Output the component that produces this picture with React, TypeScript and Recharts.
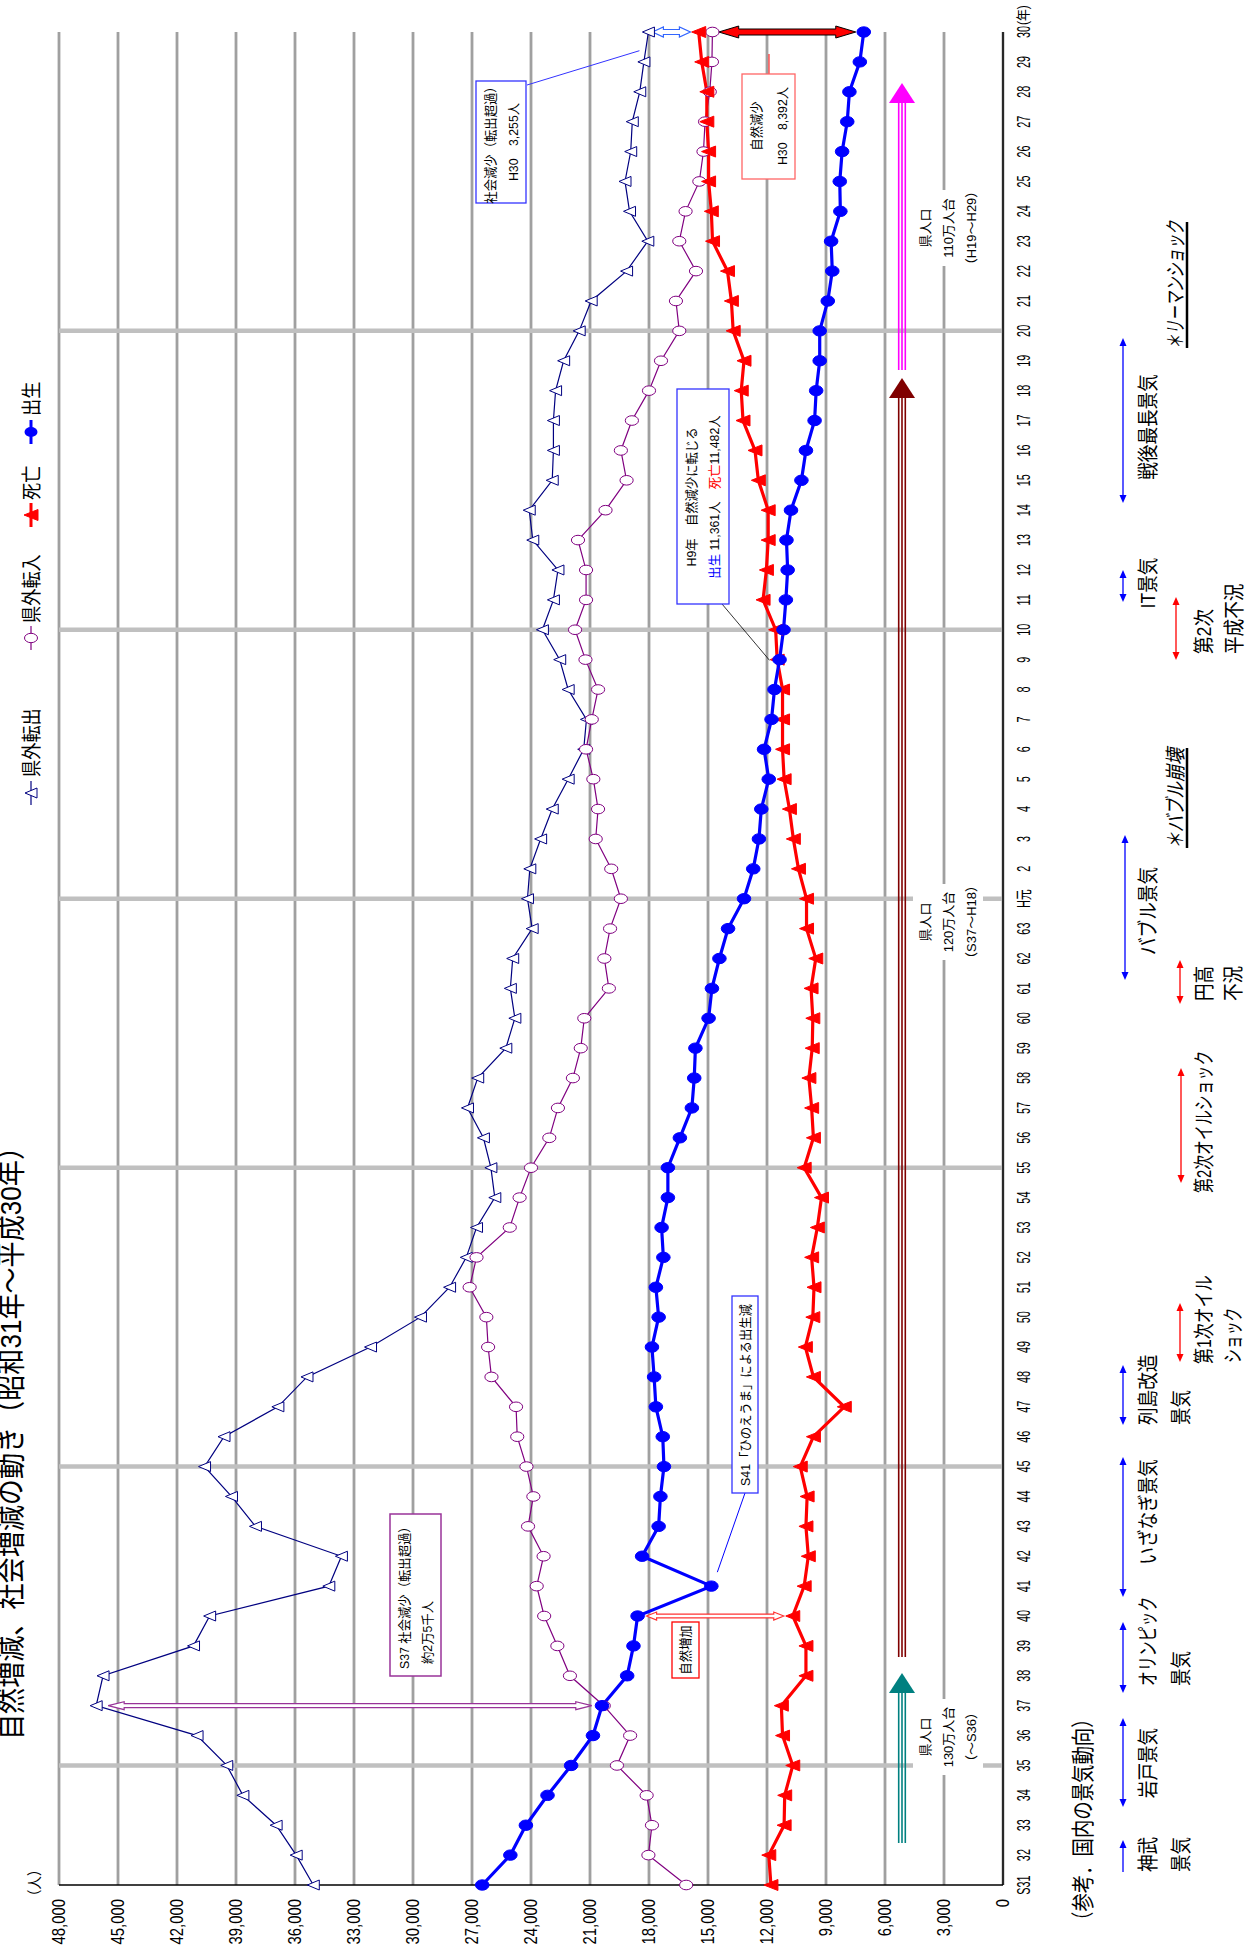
import React from "react";
import {
  ComposedChart,
  Line,
  XAxis,
  YAxis,
  CartesianGrid,
  ReferenceLine,
} from "recharts";

// chart is laid out landscape, then turned -90deg to match the portrait page
const W = 1955;
const H = 1247;
const MARGIN = { top: 59, right: 32, bottom: 214, left: 10 };
const Y_AXIS_W = 60;
const X_AXIS_H = 30;
const PLOT_L = MARGIN.left + Y_AXIS_W;
const PLOT_R = W - MARGIN.right;
const PLOT_T = MARGIN.top;
const PLOT_B = H - MARGIN.bottom - X_AXIS_H;
const Y_MAX = 48000;

const FONT = "'Liberation Sans', 'Noto Sans CJK JP', sans-serif";
const NAVY = "#000080";
const PURPLE = "#800080";
const RED = "#ff0000";
const BLUE = "#0000ff";

const years = [
  "S31", "32", "33", "34", "35", "36", "37", "38", "39", "40",
  "41", "42", "43", "44", "45", "46", "47", "48", "49", "50",
  "51", "52", "53", "54", "55", "56", "57", "58", "59", "60",
  "61", "62", "63", "H元", "2", "3", "4", "5", "6", "7",
  "8", "9", "10", "11", "12", "13", "14", "15", "16", "17",
  "18", "19", "20", "21", "22", "23", "24", "25", "26", "27",
  "28", "29", "30",
];

// 県外転出
const outMig = [
  35070, 35940, 36960, 38650, 39470, 40980, 46110, 45760, 41160, 40340,
  34280, 33640, 38010, 39230, 40600, 39610, 36870, 35390, 32160, 29620,
  28140, 27290, 26770, 25840, 26040, 26420, 27230, 26710, 25280, 24820,
  25050, 24930, 23940, 24180, 24060, 23510, 22920, 22110, 21320, 21180,
  22110, 22540, 23420, 22860, 22630, 23910, 24090, 22920, 22860, 22860,
  22750, 22340, 21550, 20940, 19140, 18060, 18990, 19220, 18930, 18850,
  18470, 18260, 18030,
];

// 県外転入
const inMig = [
  16110, 18030, 17850, 18120, 19630, 18960, 20300, 22020, 22660, 23330,
  23710, 23360, 24150, 23880, 24230, 24700, 24760, 26010, 26180, 26270,
  27120, 26770, 25080, 24580, 24000, 23070, 22630, 21870, 21470, 21290,
  20040, 20270, 19980, 19430, 19920, 20710, 20590, 20830, 21200, 20910,
  20590, 21230, 21760, 21200, 21200, 21610, 20210, 19140, 19430, 18870,
  18000, 17390, 16460, 16630, 15610, 16460, 16140, 15440, 15230, 15150,
  14910, 14800, 14775,
];

// 死亡
const deaths = [
  11800, 11910, 11130, 11100, 10690, 11210, 11270, 10020, 10020, 10690,
  10110, 9900, 10020, 9960, 10310, 9640, 8070, 9640, 10050, 9670,
  9610, 9730, 9440, 9230, 10110, 9640, 9730, 9870, 9700, 9670,
  9760, 9520, 9990, 9990, 10400, 10660, 10860, 11130, 11210, 11210,
  11210, 11482, 11560, 12200, 12030, 11940, 11940, 12440, 12610, 13220,
  13310, 13170, 13720, 13810, 14010, 14770, 14830, 14970, 14970, 15060,
  15060, 15320, 15472,
];

// 出生
const births = [
  26480, 25050, 24260, 23160, 21960, 20850, 20390, 19110, 18790, 18580,
  14830, 18350, 17510, 17420, 17240, 17300, 17650, 17740, 17850, 17510,
  17650, 17270, 17360, 17040, 17040, 16430, 15820, 15700, 15640, 14970,
  14800, 14420, 13980, 13170, 12700, 12410, 12290, 11910, 12150, 11770,
  11620, 11361, 11160, 11040, 10950, 11010, 10780, 10250, 10020, 9580,
  9500, 9320, 9320, 8910, 8680, 8740, 8270, 8300, 8180, 7920,
  7810, 7280, 7080,
];

const yTicks = [0, 3000, 6000, 9000, 12000, 15000, 18000, 21000, 24000, 27000, 30000, 33000, 36000, 39000, 42000, 45000, 48000];
const gridYears = ["35", "45", "55", "H元", "10", "20"];

const rows = years.map((year, i) => ({
  year,
  out: outMig[i],
  inn: inMig[i],
  death: deaths[i],
  birth: births[i],
}));

// same mapping as the chart scales, only for annotation leaders
const band = (PLOT_R - PLOT_L) / years.length;
const xc = (i: number) => PLOT_L + (i + 0.5) * band;
const yv = (v: number) => PLOT_B - (v / Y_MAX) * (PLOT_B - PLOT_T);

function T({ x, y, size = 13, sx = 0.9, anchor = "start", fill = "#000", italic = false, children }: any) {
  return (
    <text
      transform={`translate(${x},${y}) scale(${sx},1)`}
      fontSize={size}
      textAnchor={anchor}
      fill={fill}
      fontFamily={FONT}
      fontStyle={italic ? "italic" : undefined}
    >
      {children}
    </text>
  );
}

function triPath(cx: number, cy: number, b: number, h: number) {
  return `M${cx},${cy - h / 2} L${cx + b / 2},${cy + h / 2} L${cx - b / 2},${cy + h / 2} Z`;
}

const triDot = (stroke: string, fill: string, b: number, h: number) => (p: any) => (
  <path key={`t${p.index}`} d={triPath(p.cx, p.cy, b, h)} fill={fill} stroke={stroke} strokeWidth={1} />
);

const ellDot = (stroke: string, fill: string, rx: number, ry: number) => (p: any) => (
  <ellipse key={`e${p.index}`} cx={p.cx} cy={p.cy} rx={rx} ry={ry} fill={fill} stroke={stroke} strokeWidth={1} />
);

// vertical double arrow for ReferenceLine segments
const vArrow = (o: any) => (p: any) => {
  const x = p.x1;
  const ya = Math.min(p.y1, p.y2) + o.padA;
  const yb = Math.max(p.y1, p.y2) - o.padB;
  const { s, h, L } = o;
  const pts = [
    [x, ya], [x + h, ya + L], [x + s, ya + L], [x + s, yb - L], [x + h, yb - L],
    [x, yb], [x - h, yb - L], [x - s, yb - L], [x - s, ya + L], [x - h, ya + L],
  ].map((q) => q.join(",")).join(" ");
  return <polygon points={pts} fill={o.fill} stroke={o.stroke} strokeWidth={o.sw} />;
};

function EcoArrow({ x1, x2, y, color, both = true }: any) {
  const L = 8;
  const hw = 3.5;
  return (
    <g>
      <line x1={both ? x1 + L - 1 : x1} x2={x2 - L + 1} y1={y} y2={y} stroke={color} strokeWidth={1.3} />
      <polygon points={`${x2},${y} ${x2 - L},${y - hw} ${x2 - L},${y + hw}`} fill={color} />
      {both && <polygon points={`${x1},${y} ${x1 + L},${y - hw} ${x1 + L},${y + hw}`} fill={color} />}
    </g>
  );
}

function PopArrow({ x1, x2, y, color }: any) {
  const L = 20;
  const hw = 13;
  return (
    <g>
      {[-3.3, 0, 3.3].map((d) => (
        <line key={d} x1={x1} x2={x2 - L + 2} y1={y + d} y2={y + d} stroke={color} strokeWidth={1.6} />
      ))}
      <polygon points={`${x2},${y} ${x2 - L},${y - hw} ${x2 - L},${y + hw}`} fill={color} />
    </g>
  );
}

function PopLabel({ x, lines }: any) {
  return (
    <g>
      <rect x={x - 38} y={913} width={76} height={70} fill="#fff" />
      <T x={x} y={930} anchor="middle" size={13} sx={1}>{lines[0]}</T>
      <T x={x} y={953} anchor="middle" size={13} sx={1}>{lines[1]}</T>
      <T x={x} y={976} anchor="middle" size={13} sx={1}>{lines[2]}</T>
    </g>
  );
}

const ES = 21; // business-cycle label size
const EX = 0.84;
const KX = 0.71; // katakana-heavy labels run narrower

function Overlay() {
  return (
    <svg width={W} height={H} style={{ position: "absolute", left: 0, top: 0, pointerEvents: "none" }}>
      {/* title, units */}
      <T x={215} y={21} size={30} sx={0.87}>自然増減、社会増減の動き（昭和31年～平成30年）</T>
      <T x={52} y={40} size={15} sx={0.9}>（人）</T>
      <T x={1930} y={1028} size={14} sx={0.85}>(年)</T>

      {/* legend */}
      <line x1={1150} x2={1174} y1={31} y2={31} stroke={NAVY} strokeWidth={1.2} />
      <path d={triPath(1162, 31, 10, 12)} fill="#fff" stroke={NAVY} />
      <T x={1178} y={39} size={20} sx={0.86}>県外転出</T>
      <line x1={1305} x2={1329} y1={31} y2={31} stroke={PURPLE} strokeWidth={1.2} />
      <ellipse cx={1317} cy={31} rx={4.7} ry={6.5} fill="#fff" stroke={PURPLE} />
      <T x={1332} y={39} size={20} sx={0.86}>県外転入</T>
      <line x1={1428} x2={1452} y1={31} y2={31} stroke={RED} strokeWidth={3} />
      <path d={triPath(1440, 31, 11, 14)} fill={RED} stroke={RED} />
      <T x={1455} y={39} size={20} sx={0.86}>死亡</T>
      <line x1={1511} x2={1535} y1={31} y2={31} stroke={BLUE} strokeWidth={3} />
      <ellipse cx={1523} cy={31} rx={5} ry={6.5} fill={BLUE} />
      <T x={1539} y={39} size={20} sx={0.86}>出生</T>

      {/* S37 note */}
      <rect x={279} y={390} width={162} height={51} fill="#fff" stroke="#993399" strokeWidth={1.5} />
      <T x={286} y={409} size={13} sx={0.95}>S37 社会減少（転出超過）</T>
      <T x={291} y={432} size={13} sx={0.95}>約2万5千人</T>

      {/* natural increase */}
      <rect x={277} y={672} width={56} height={27} fill="#fff" stroke={RED} strokeWidth={1.3} />
      <T x={305} y={690} size={13} sx={0.95} anchor="middle">自然増加</T>

      {/* S41 hinoeuma */}
      <line x1={462} y1={745} x2={xc(10) + 4} y2={yv(births[10]) + 6} stroke={BLUE} strokeWidth={1} />
      <rect x={462} y={732} width={197} height={26} fill="#fff" stroke="#3333ff" strokeWidth={1.3} />
      <T x={560} y={750} size={13} sx={0.95} anchor="middle">S41「ひのえうま」による出生減</T>

      {/* H9 note */}
      <line x1={1351} y1={722} x2={xc(41) + 4} y2={yv(births[41]) - 10} stroke="#000" strokeWidth={0.8} />
      <rect x={1351} y={677} width={215} height={52} fill="#fff" stroke="#3333ff" strokeWidth={1.3} />
      <T x={1458} y={696} size={13} sx={0.95} anchor="middle">H9年　自然減少に転じる</T>
      <text transform="translate(1458,719) scale(0.95,1)" fontSize={13} textAnchor="middle" fontFamily={FONT}>
        <tspan fill={BLUE}>出生</tspan>
        <tspan> 11,361人　</tspan>
        <tspan fill={RED}>死亡</tspan>
        <tspan>11,482人</tspan>
      </text>

      {/* H30 social decrease */}
      <line x1={1870} y1={527} x2={xc(62) - 4} y2={yv(outMig[62]) - 9} stroke="#3333ff" strokeWidth={1} />
      <rect x={1752} y={476} width={122} height={50} fill="#fff" stroke="#3333ff" strokeWidth={1.3} />
      <T x={1813} y={495} size={13} sx={0.95} anchor="middle">社会減少（転出超過）</T>
      <T x={1813} y={518} size={13} sx={0.95} anchor="middle">H30　3,255人</T>

      {/* H30 natural decrease */}
      <line x1={1881} y1={769} x2={1901} y2={769} stroke={RED} strokeWidth={1} />
      <rect x={1776} y={742} width={105} height={53} fill="#fff" stroke="#ff6666" strokeWidth={1.3} />
      <T x={1829} y={761} size={13} sx={0.95} anchor="middle">自然減少</T>
      <T x={1829} y={787} size={13} sx={0.95} anchor="middle">H30　8,392人</T>

      {/* population bands */}
      <PopArrow x1={112} x2={282} y={902} color="#008080" />
      <PopArrow x1={298} x2={1577} y={902} color="#800000" />
      <PopArrow x1={1585} x2={1872} y={902} color="#ff00ff" />
      <PopLabel x={218} lines={["県人口", "130万人台", "（～S36）"]} />
      <PopLabel x={1033} lines={["県人口", "120万人台", "（S37～H18）"]} />
      <PopLabel x={1727} lines={["県人口", "110万人台", "（H19～H29）"]} />

      {/* business cycles */}
      <T x={25} y={1091} size={23} sx={0.8}>（参考．国内の景気動向）</T>

      <EcoArrow x1={83} x2={115} y={1123} color={BLUE} both={false} />
      <T x={83} y={1155} size={ES} sx={EX}>神武</T>
      <T x={83} y={1188} size={ES} sx={EX}>景気</T>

      <EcoArrow x1={148} x2={237} y={1123} color={BLUE} />
      <T x={192} y={1155} size={ES} sx={EX} anchor="middle">岩戸景気</T>

      <EcoArrow x1={262} x2={333} y={1123} color={BLUE} />
      <T x={269} y={1155} size={ES} sx={KX}>オリンピック</T>
      <T x={269} y={1188} size={ES} sx={EX}>景気</T>

      <EcoArrow x1={358} x2={498} y={1123} color={BLUE} />
      <T x={496} y={1155} size={ES} sx={EX} anchor="end">いざなぎ景気</T>

      <EcoArrow x1={530} x2={590} y={1123} color={BLUE} />
      <T x={530} y={1155} size={ES} sx={EX}>列島改造</T>
      <T x={530} y={1188} size={ES} sx={EX}>景気</T>

      <EcoArrow x1={593} x2={652} y={1180} color={RED} />
      <T x={591} y={1211} size={ES} sx={0.76}>第1次オイル</T>
      <T x={592} y={1240} size={ES} sx={0.66}>ショック</T>

      <EcoArrow x1={772} x2={887} y={1181} color={RED} />
      <T x={762} y={1211} size={ES} sx={KX}>第2次オイルショック</T>

      <EcoArrow x1={951} x2={995} y={1180} color={RED} />
      <T x={954} y={1211} size={ES} sx={EX}>円高</T>
      <T x={954} y={1240} size={ES} sx={EX}>不況</T>

      <EcoArrow x1={975} x2={1120} y={1125} color={BLUE} />
      <T x={1044} y={1155} size={ES} sx={EX} anchor="middle">バブル景気</T>

      <T x={1106} y={1183} size={ES} sx={0.8} italic>＊バブル崩壊</T>
      <line x1={1107} x2={1207} y1={1187} y2={1187} stroke="#000" strokeWidth={2.5} />

      <EcoArrow x1={1295} x2={1358} y={1176} color={RED} />
      <T x={1301} y={1211} size={ES} sx={EX}>第2次</T>
      <T x={1301} y={1241} size={ES} sx={EX}>平成不況</T>

      <EcoArrow x1={1353} x2={1385} y={1123} color={BLUE} />
      <T x={1372} y={1155} size={ES} sx={EX} anchor="middle">IT景気</T>

      <EcoArrow x1={1452} x2={1617} y={1123} color={BLUE} />
      <T x={1528} y={1155} size={ES} sx={EX} anchor="middle">戦後最長景気</T>

      <T x={1606} y={1183} size={ES} sx={0.68} italic>＊リーマンショック</T>
      <line x1={1607} x2={1733} y1={1187} y2={1187} stroke="#000" strokeWidth={2.5} />
    </svg>
  );
}

export default function App() {
  return (
    <div style={{ position: "absolute", left: 0, top: 0, width: H, height: W, overflow: "hidden", background: "#fff" }}>
      <div
        style={{
          position: "absolute",
          left: 0,
          top: 0,
          width: W,
          height: H,
          transformOrigin: "0 0",
          transform: `translate(0px, ${W}px) rotate(-90deg)`,
        }}
      >
        <ComposedChart width={W} height={H} data={rows} margin={MARGIN}>
          <CartesianGrid vertical={false} stroke="#a0a0a0" strokeWidth={2.8} />
          {gridYears.map((g) => (
            <ReferenceLine key={g} x={g} stroke="#c0c0c0" strokeWidth={4.5} />
          ))}
          <XAxis
            dataKey="year"
            type="category"
            height={X_AXIS_H}
            interval={0}
            tickLine={false}
            tickSize={0}
            tickMargin={0}
            axisLine={{ stroke: "#000", strokeWidth: 1.5 }}
            tick={(p: any) => (
              <text
                key={`x${p.index}`}
                transform={`translate(${p.x},${p.y + 27}) scale(0.62,1)`}
                fontSize={17.5}
                textAnchor="middle"
                fontFamily={FONT}
                fill="#000"
              >
                {p.payload.value}
              </text>
            )}
          />
          <YAxis
            type="number"
            domain={[0, Y_MAX]}
            ticks={yTicks}
            width={Y_AXIS_W}
            tickLine={false}
            tickSize={0}
            tickMargin={0}
            axisLine={{ stroke: "#000", strokeWidth: 1.5 }}
            tick={(p: any) => (
              <text
                key={`y${p.index}`}
                transform={`translate(${p.x - 14},${p.y + 6}) scale(0.85,1)`}
                fontSize={17.5}
                textAnchor="end"
                fontFamily={FONT}
                fill="#000"
              >
                {Number(p.payload.value).toLocaleString("en-US")}
              </text>
            )}
          />
          <Line
            dataKey="out"
            stroke={NAVY}
            strokeWidth={1.2}
            dot={triDot(NAVY, "#fff", 10, 12)}
            activeDot={false}
            isAnimationActive={false}
          />
          <Line
            dataKey="inn"
            stroke={PURPLE}
            strokeWidth={1.2}
            dot={ellDot(PURPLE, "#fff", 4.8, 6.6)}
            activeDot={false}
            isAnimationActive={false}
          />
          <Line
            dataKey="death"
            stroke={RED}
            strokeWidth={3.2}
            dot={triDot(RED, RED, 11, 14)}
            activeDot={false}
            isAnimationActive={false}
          />
          <Line
            dataKey="birth"
            stroke={BLUE}
            strokeWidth={3.2}
            dot={ellDot(BLUE, BLUE, 5.2, 6.8)}
            activeDot={false}
            isAnimationActive={false}
          />
          <ReferenceLine
            segment={[{ x: years[6], y: inMig[6] }, { x: years[6], y: outMig[6] }]}
            ifOverflow="visible"
            shape={vArrow({ padA: 12, padB: 12, s: 2, h: 4, L: 16, fill: "#fff", stroke: "#993399", sw: 1.2 })}
          />
          <ReferenceLine
            segment={[{ x: years[9], y: deaths[9] }, { x: years[9], y: births[9] }]}
            ifOverflow="visible"
            shape={vArrow({ padA: 9, padB: 9, s: 1.8, h: 4, L: 10, fill: "#fff", stroke: "#ff3333", sw: 1.2 })}
          />
          <ReferenceLine
            segment={[{ x: years[62], y: inMig[62] }, { x: years[62], y: outMig[62] }]}
            ifOverflow="visible"
            shape={vArrow({ padA: 4, padB: 22, s: 2.5, h: 5, L: 11, fill: "#fff", stroke: "#3366ff", sw: 1.2 })}
          />
          <ReferenceLine
            segment={[{ x: years[62], y: births[62] }, { x: years[62], y: deaths[62] }]}
            ifOverflow="visible"
            shape={vArrow({ padA: 20, padB: 8, s: 3, h: 6, L: 20, fill: RED, stroke: "#000", sw: 1 })}
          />
        </ComposedChart>
        <Overlay />
      </div>
    </div>
  );
}
